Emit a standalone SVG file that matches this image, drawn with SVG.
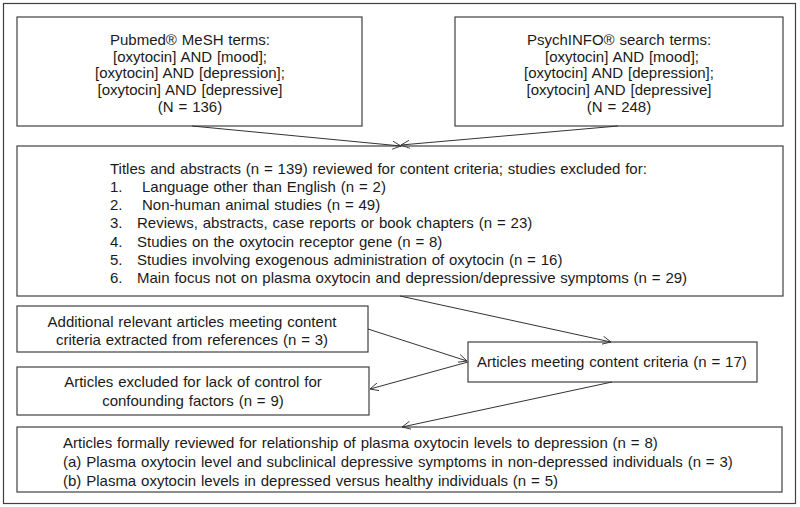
<svg xmlns="http://www.w3.org/2000/svg" width="800" height="507" viewBox="0 0 800 507">
<style>
.box{fill:#fff;stroke:#404040;stroke-width:1.2}
.t{font-family:"Liberation Sans",Arial,sans-serif;font-size:15px;fill:#1a1a1a;word-spacing:0.7px}
.c{text-anchor:middle}
.con{stroke:#333;stroke-width:1;fill:none;marker-end:url(#ah)}
</style>
<defs>
<marker id="ah" viewBox="0 0 10 10" refX="9.5" refY="5" markerWidth="9" markerHeight="9" orient="auto" markerUnits="userSpaceOnUse">
<path d="M0,0.5 L9.5,5 L0,9.5" fill="none" stroke="#333" stroke-width="1"/>
</marker>
</defs>
<rect x="0" y="0" width="800" height="507" fill="#fff"/>
<rect x="3.5" y="3.5" width="792" height="500" fill="none" stroke="#404040" stroke-width="1.2"/>
<g id="pubmed">
<rect class="box" x="17" y="17" width="345" height="109"/>
<text class="t c" x="190" y="45">Pubmed® MeSH terms:</text>
<text class="t c" x="190" y="62">[oxytocin] AND [mood];</text>
<text class="t c" x="190" y="78">[oxytocin] AND [depression];</text>
<text class="t c" x="190" y="95">[oxytocin] AND [depressive]</text>
<text class="t c" x="190" y="112">(N = 136)</text>
</g>
<g id="psychinfo">
<rect class="box" x="455" y="17" width="328" height="109"/>
<text class="t c" x="619" y="45">PsychINFO® search terms:</text>
<text class="t c" x="622" y="62">[oxytocin] AND [mood];</text>
<text class="t c" x="619" y="78">[oxytocin] AND [depression];</text>
<text class="t c" x="619" y="95">[oxytocin] AND [depressive]</text>
<text class="t c" x="619" y="112">(N = 248)</text>
</g>
<g id="screening">
<rect class="box" x="17" y="146" width="766" height="150"/>
<text class="t" x="110" y="174">Titles and abstracts (n = 139) reviewed for content criteria; studies excluded for:</text>
<text class="t" x="110" y="192">1.</text><text class="t" x="142" y="192">Language other than English (n = 2)</text>
<text class="t" x="110" y="210">2.</text><text class="t" x="142" y="210">Non-human animal studies (n = 49)</text>
<text class="t" x="110" y="228">3.</text><text class="t" x="137" y="228">Reviews, abstracts, case reports or book chapters (n = 23)</text>
<text class="t" x="110" y="247">4.</text><text class="t" x="137" y="247">Studies on the  oxytocin receptor gene (n = 8)</text>
<text class="t" x="110" y="265">5.</text><text class="t" x="137" y="265">Studies involving exogenous administration of oxytocin (n = 16)</text>
<text class="t" x="110" y="283">6.</text><text class="t" x="137" y="283">Main focus not on plasma oxytocin and depression/depressive symptoms (n = 29)</text>
</g>
<g id="additional">
<rect class="box" x="17" y="306" width="351" height="46"/>
<text class="t c" x="192" y="327">Additional relevant articles meeting content</text>
<text class="t c" x="192" y="345">criteria extracted from references (n = 3)</text>
</g>
<g id="excluded">
<rect class="box" x="17" y="367" width="352" height="48"/>
<text class="t c" x="193" y="387">Articles excluded for lack of control for</text>
<text class="t c" x="193" y="406">confounding factors (n = 9)</text>
</g>
<g id="meeting">
<rect class="box" x="468" y="342" width="289" height="40"/>
<text class="t" x="477" y="367">Articles meeting content criteria (n = 17)</text>
</g>
<g id="final">
<rect class="box" x="17" y="427" width="765" height="65"/>
<text class="t" x="63" y="448">Articles formally reviewed for relationship of plasma oxytocin levels to depression (n = 8)</text>
<text class="t" x="63" y="467">(a) Plasma oxytocin level and subclinical depressive symptoms in non-depressed individuals (n = 3)</text>
<text class="t" x="63" y="486">(b) Plasma oxytocin levels in depressed versus healthy individuals (n = 5)</text>
</g>
<g id="connectors">
<line class="con" x1="192" y1="126" x2="401" y2="146"/>
<line class="con" x1="618" y1="126" x2="401" y2="145"/>
<line class="con" x1="400" y1="296" x2="611" y2="342"/>
<line class="con" x1="368" y1="329" x2="467" y2="361"/>
<line class="con" x1="468" y1="362" x2="370" y2="389"/>
<line class="con" x1="612" y1="382" x2="402" y2="427"/>
</g>
</svg>
